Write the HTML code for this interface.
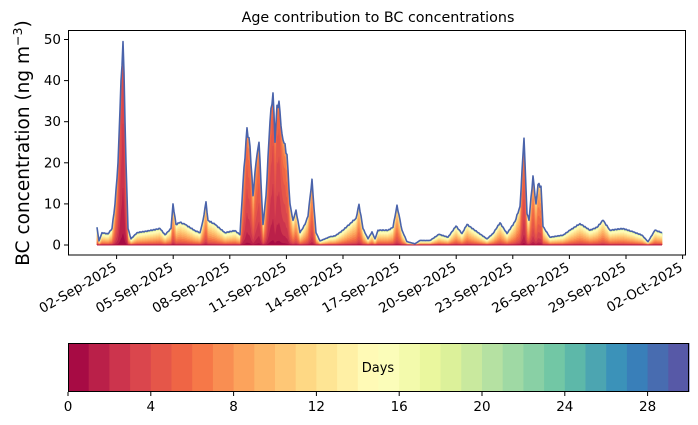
<!DOCTYPE html>
<html><head><meta charset="utf-8"><style>
body{margin:0;background:#fff;}
svg{display:block;font-family:"DejaVu Sans","Liberation Sans",sans-serif;}
</style></head><body>
<svg id="s" width="698" height="425" xmlns="http://www.w3.org/2000/svg">
<text x="378" y="22" font-size="14.3" text-anchor="middle">Age contribution to BC concentrations</text>
<text transform="translate(29,143) rotate(-90)" font-size="18.5" text-anchor="middle">BC concentration (ng m<tspan baseline-shift="super" font-size="12.5">−3</tspan>)</text>
<g id="plot"></g>
<rect x="68.5" y="30.5" width="617" height="224.5" fill="none" stroke="#000" stroke-width="1"/>
<g id="cb"></g>
<text x="378" y="372" font-size="13" text-anchor="middle">Days</text>
</svg>
<script>
const NS="http://www.w3.org/2000/svg";
function el(t,a,p,txt){const e=document.createElementNS(NS,t);for(const k in a)e.setAttribute(k,a[k]);if(txt!==undefined)e.textContent=txt;p.appendChild(e);return e;}
const stops=["#9e0142","#d53e4f","#f46d43","#fdae61","#fee08b","#ffffbf","#e6f598","#abdda4","#66c2a5","#3288bd","#5e4fa2"].map(h=>[1,3,5].map(i=>parseInt(h.substr(i,2),16)));
function spec(t){const p=t*10,i=Math.min(9,Math.floor(p)),f=p-i;const c=stops[i].map((v,j)=>Math.round(v+(stops[i+1][j]-v)*f));return `rgb(${c})`;}
const cols=[];for(let k=0;k<30;k++)cols.push(spec((k+0.5)/30));
const kp=[[97,4.3],[99,1],[102,3],[108,2.7],[112,4],[115,10],[118,20],[121,40],[123,49.5],[124,42],[126,20],[128,4],[131,1.5],[137,3],[150,3.5],[160,4],[165,2.5],[171,4],[173,10],[176,5],[180,5.5],[185,5],[195,3.5],[200,3],[203,6],[206,10.5],[208,6],[215,5],[225,3],[235,3.5],[240,2.5],[243,15],[247,28.5],[250,24],[253,12],[256,20],[259,25],[261,15],[263,5],[266,12],[270,30],[273,37],[275,25],[277,34],[279,35],[282,27],[287,22],[290,10],[293,6],[296,8.5],[300,3],[305,5],[308,7],[312,16],[314,9],[316,3],[320,1],[330,2],[335,2.2],[343,3.6],[350,5.2],[356,6.5],[359,9.9],[363,4],[368,1.5],[372,3.2],[375,1.5],[378,3.6],[388,3.6],[393,4.3],[397,9.7],[402,3.6],[407,0.8],[415,0.3],[420,1.1],[430,1.1],[439,2.6],[448,1.9],[456,4.6],[462,2.8],[467,5],[477,3.2],[487,1.5],[493,2.8],[500,5.4],[507,2.8],[515,5.7],[520,9.4],[523,22],[524,26],[525,20],[527,7.6],[529,6],[533,16.8],[536,10],[538,14.7],[541,14.3],[543,4.5],[550,1.9],[563,2.4],[570,3.6],[580,5.2],[590,3.6],[597,4.3],[603,6],[610,3.6],[623,4],[633,3.2],[642,2.4],[648,0.8],[655,3.6],[662,3]];
function T(x){for(let i=0;i<kp.length-1;i++){if(x>=kp[i][0]&&x<=kp[i+1][0]){const f=(x-kp[i][0])/(kp[i+1][0]-kp[i][0]);return kp[i][1]+(kp[i+1][1]-kp[i][1])*f;}}return 0;}
const y0=245,sc=4.11;
const xs=[];for(let x=97;x<=662;x+=1)xs.push(x);
const vals=xs.map(x=>{const v=T(x);const isK=kp.some(p=>p[0]===x);return isK?v:Math.max(0.2,v*(1+0.03*Math.sin(x*2.3)));});
const plot=document.getElementById("plot");
for(let k=29;k>=0;k--){
 let d=`M97,${y0}`;
 xs.forEach((x,i)=>{const v=vals[i];const m=Math.max(3,16/(1+v/12));const c=1-Math.exp(-Math.pow((k+1)/m,2.5));const cum=k==29?1:c;d+=`L${x},${(y0-v*cum*sc).toFixed(2)}`;});
 d+=`L662,${y0}Z`;
 el("path",{d,fill:cols[k],stroke:cols[k],"stroke-width":0.3},plot);
}
let d="";xs.forEach((x,i)=>{d+=(i?"L":"M")+x+","+(y0-vals[i]*sc).toFixed(2);});
el("path",{d,fill:"none",stroke:"#4a63ab","stroke-width":1.6,"stroke-linejoin":"round"},plot);
for(let v=0;v<=50;v+=10){const y=y0-v*sc;el("line",{x1:64,x2:68,y1:y,y2:y,stroke:"#000"},plot);el("text",{x:61,y:y+4.5,"font-size":13.5,"text-anchor":"end"},plot,String(v));}
const labs=["02-Sep-2025","05-Sep-2025","08-Sep-2025","11-Sep-2025","14-Sep-2025","17-Sep-2025","20-Sep-2025","23-Sep-2025","26-Sep-2025","29-Sep-2025","02-Oct-2025",""];
labs.forEach((l,i)=>{const x=116.6+i*56.6;el("line",{x1:x,x2:x,y1:255,y2:259,stroke:"#000"},plot);if(l)el("text",{x:0,y:0,"font-size":13.5,"text-anchor":"end",transform:`translate(${x+1},${270}) rotate(-30)`},plot,l);});
const cb=document.getElementById("cb");const cx=68,cw=621,cy=343,ch=49;
for(let k=0;k<30;k++)el("rect",{x:cx+k*cw/30,y:cy,width:cw/30+0.5,height:ch,fill:cols[k]},cb);
el("rect",{x:cx+0.5,y:cy+0.5,width:cw-1,height:ch-1,fill:"none",stroke:"#000"},cb);
for(let v=0;v<=28;v+=4){const x=cx+v*cw/30;el("line",{x1:x,x2:x,y1:cy+ch,y2:cy+ch+4,stroke:"#000"},cb);el("text",{x,y:cy+ch+19,"font-size":13.5,"text-anchor":"middle"},cb,String(v));}
</script>
</body></html>
